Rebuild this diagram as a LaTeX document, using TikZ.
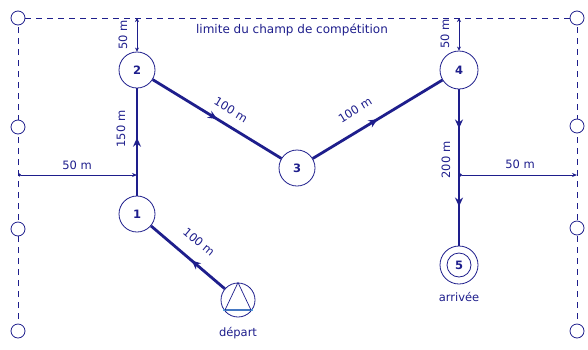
\documentclass[tikz,border=0pt]{standalone}
\usepackage{fontspec}
\setmainfont{DejaVu Sans}
\usetikzlibrary{arrows.meta,decorations.markings,calc}
\definecolor{ink}{HTML}{1E1E8C}
\definecolor{lightblue}{HTML}{5AA8E0}
\tikzset{
  lab/.style={text=ink, font=\fontsize{11.5}{13}\selectfont, inner sep=1pt},
  stn/.style={circle, draw=ink, line width=0.8pt, fill=white, minimum size=36pt, inner sep=0pt, text=ink, font=\fontsize{11.5}{13}\selectfont\bfseries},
  post/.style={circle, draw=ink, line width=0.8pt, fill=white, minimum size=14pt, inner sep=0pt},
  edge/.style={draw=ink, line width=2.8pt},
  dim/.style={draw=ink, line width=0.8pt},
  bound/.style={draw=ink, line width=0.8pt, dash pattern=on 6pt off 5pt},
  arrowat/.style={postaction={decorate, decoration={markings, mark=at position #1 with {\arrow{Stealth[length=9pt,width=8pt]}}}}},
}
\begin{document}
\begin{tikzpicture}[x=1pt, y=-1pt]
\useasboundingbox (0,0) rectangle (588,349);
% boundary posts
\coordinate (c1) at (18,18);
\coordinate (c2) at (577,18);
\coordinate (c3) at (18,330);
\coordinate (c4) at (577,330);
\draw[bound] (c3) -- (c1) -- (c2) -- (c4);
\node[post] (p1) at (18,18) {};
\node[post] (p2) at (18,127) {};
\node[post] (p3) at (18,229) {};
\node[post] (p4) at (18,331) {};
\node[post] (p5) at (577,18) {};
\node[post] (p6) at (577,126) {};
\node[post] (p7) at (577,228) {};
\node[post] (p8) at (577,331) {};
\node[lab, font=\fontsize{12}{14}\selectfont] (title) at (292,30) {limite du champ de compétition};
% stations
\node[stn] (n2) at (137,70) {2};
\node[stn] (n1) at (137,214) {1};
\node[stn] (n3) at (297,168) {3};
\node[stn, minimum size=38pt] (n4) at (459,70) {4};
\node[circle, draw=ink, line width=0.8pt, fill=white, minimum size=38pt] (n5) at (459,265) {};
\node[stn, minimum size=24pt] (n5i) at (459,265) {5};
\node[circle, draw=ink, line width=0.8pt, fill=white, minimum size=34pt] (dep) at (238,300) {};
\draw[draw=lightblue, line width=1.2pt] ($(dep.center)+(-15,10)$) -- ($(dep.center)+(15,10)$);
\draw[draw=ink, line width=0.7pt] (dep.north) -- ($(dep.center)+(-13,10)$) -- ($(dep.center)+(13,10)$) -- cycle;
\node[lab] (deplab) at (238,333) {départ};
\node[lab] (arrlab) at (459,297) {arrivée};
% route
\draw[edge, arrowat=0.45] (dep) -- (n1);
\draw[edge, arrowat=0.54] (n1) -- (n2);
\draw[edge, arrowat=0.5] (n2) -- (n3);
\draw[edge, arrowat=0.5] (n3) -- (n4);
\draw[edge, arrowat=0.25, arrowat=0.75] (n4) -- (n5);
% labels
\node[lab, rotate=-40] (l01) at (199,242) {100 m};
\node[lab, rotate=90] (l12) at (121,129) {150 m};
\node[lab, rotate=-31.5] (l23) at (231,110) {100 m};
\node[lab, rotate=31.5] (l34) at (355,110) {100 m};
\node[lab, rotate=90] (l45) at (446,160) {200 m};
% dimensions
\coordinate (t2) at (137,18);
\coordinate (t4) at (459,18);
\draw[dim, {Stealth[length=4pt,width=4pt]}-{Stealth[length=4pt,width=4pt]}] (t2) -- (n2.north);
\draw[dim, {Stealth[length=4pt,width=4pt]}-{Stealth[length=4pt,width=4pt]}] (t4) -- (n4.north);
\node[lab, rotate=90] (d2) at (123,35) {50 m};
\node[lab, rotate=90] (d4) at (445,34) {50 m};
\coordinate (hl1) at (18,175);
\coordinate (hl2) at (137,175);
\coordinate (hr1) at (459,175);
\coordinate (hr2) at (577,175);
\draw[dim, {Circle[length=3pt]}-{Stealth[length=5pt,width=4pt]}] (hl1) -- (hl2);
\draw[dim, {Circle[length=3pt]}-{Stealth[length=5pt,width=4pt]}] (hr1) -- (hr2);
\node[lab] (dl) at (77,165) {50 m};
\node[lab] (dr) at (520,164) {50 m};
\end{tikzpicture}
\end{document}
